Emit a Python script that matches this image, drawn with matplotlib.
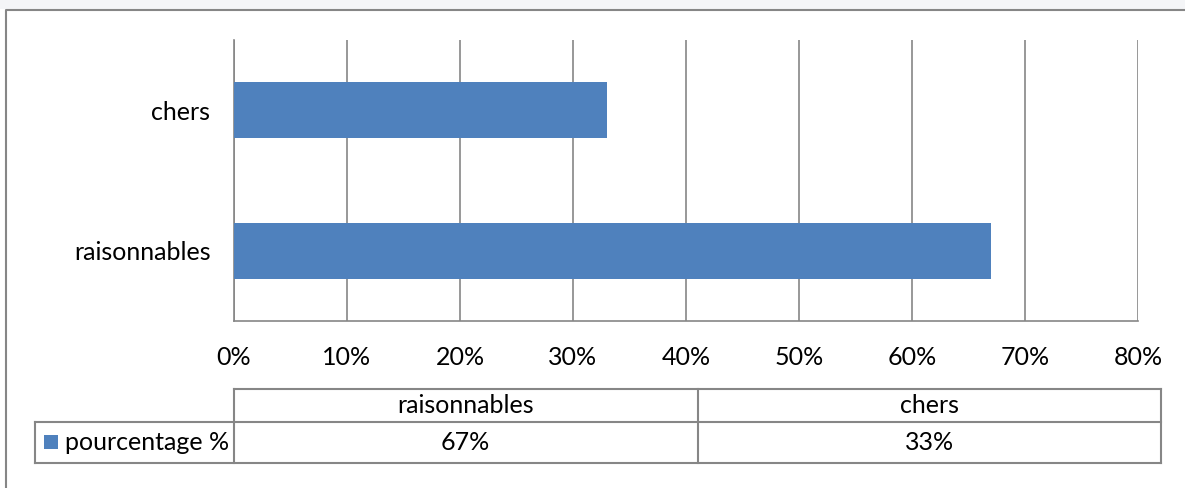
import matplotlib.pyplot as plt
from matplotlib.patches import Rectangle

categories = ['raisonnables', 'chers']
values = [67, 33]
series_name = 'pourcentage %'
ticks = [0, 10, 20, 30, 40, 50, 60, 70, 80]

blue = '#4F81BD'
grey = '#868686'
plt.rcParams['font.family'] = ['Lato', 'DejaVu Sans']
fs = 18

W, H = 1185, 488
fig = plt.figure(figsize=(W / 100, H / 100), dpi=100)

# pixel helper for placing axes
def box(l, t, r, b):
    return [l / W, 1 - b / H, (r - l) / W, (b - t) / H]

ax = fig.add_axes(box(234, 40, 1138, 321))
ax.barh(range(len(categories)), values, height=0.4, color=blue, zorder=3)
ax.set_xlim(0, 80)
ax.set_ylim(-0.5, len(categories) - 0.5)
ax.set_xticks(ticks)
ax.set_xticklabels([f'{t}%' for t in ticks], fontsize=fs)
ax.set_yticks(range(len(categories)))
ax.set_yticklabels(categories, fontsize=fs)
ax.tick_params(length=0)
ax.tick_params(axis='y', pad=17)
ax.tick_params(axis='x', pad=18)
ax.xaxis.grid(True, color=grey, linewidth=1.2)
for s in ['top', 'right']:
    ax.spines[s].set_visible(False)
for s in ['left', 'bottom']:
    ax.spines[s].set_color(grey)
    ax.spines[s].set_linewidth(1.2)

# overlay in pixel coordinates for frame and data table
ov = fig.add_axes([0, 0, 1, 1], zorder=-1)
ov.set_xlim(0, W)
ov.set_ylim(H, 0)
ov.axis('off')
ov.add_patch(Rectangle((0, 0), W, 9, color='#F4F5F7', lw=0))
ov.plot([5.5, 5.5, W], [H, 9.5, 9.5], color=grey, lw=1.5)

tab = fig.add_axes([0, 0, 1, 1], zorder=4)
tab.set_xlim(0, W)
tab.set_ylim(H, 0)
tab.axis('off')
t_left, t_right, legend_left = 234, 1161, 35
y0, y1, y2 = 389, 422, 463
col_w = (t_right - t_left) / len(categories)
lk = dict(color=grey, lw=1.5)
tab.plot([t_left, t_right], [y0, y0], **lk)
tab.plot([legend_left, t_right], [y1, y1], **lk)
tab.plot([legend_left, t_right], [y2, y2], **lk)
tab.plot([legend_left, legend_left], [y1, y2], **lk)
for i in range(len(categories) + 1):
    x = t_left + i * col_w
    tab.plot([x, x], [y0, y2], **lk)
for i, (c, v) in enumerate(zip(categories, values)):
    xc = t_left + (i + 0.5) * col_w
    tab.text(xc, (y0 + y1) / 2, c, ha='center', va='center', fontsize=fs)
    tab.text(xc, (y1 + y2) / 2, f'{v}%', ha='center', va='center', fontsize=fs)
tab.add_patch(Rectangle((44, 435), 14, 14, color=blue, lw=0))
tab.text(65, (y1 + y2) / 2, series_name, ha='left', va='center', fontsize=fs)

fig.savefig('out.png', dpi=100)
